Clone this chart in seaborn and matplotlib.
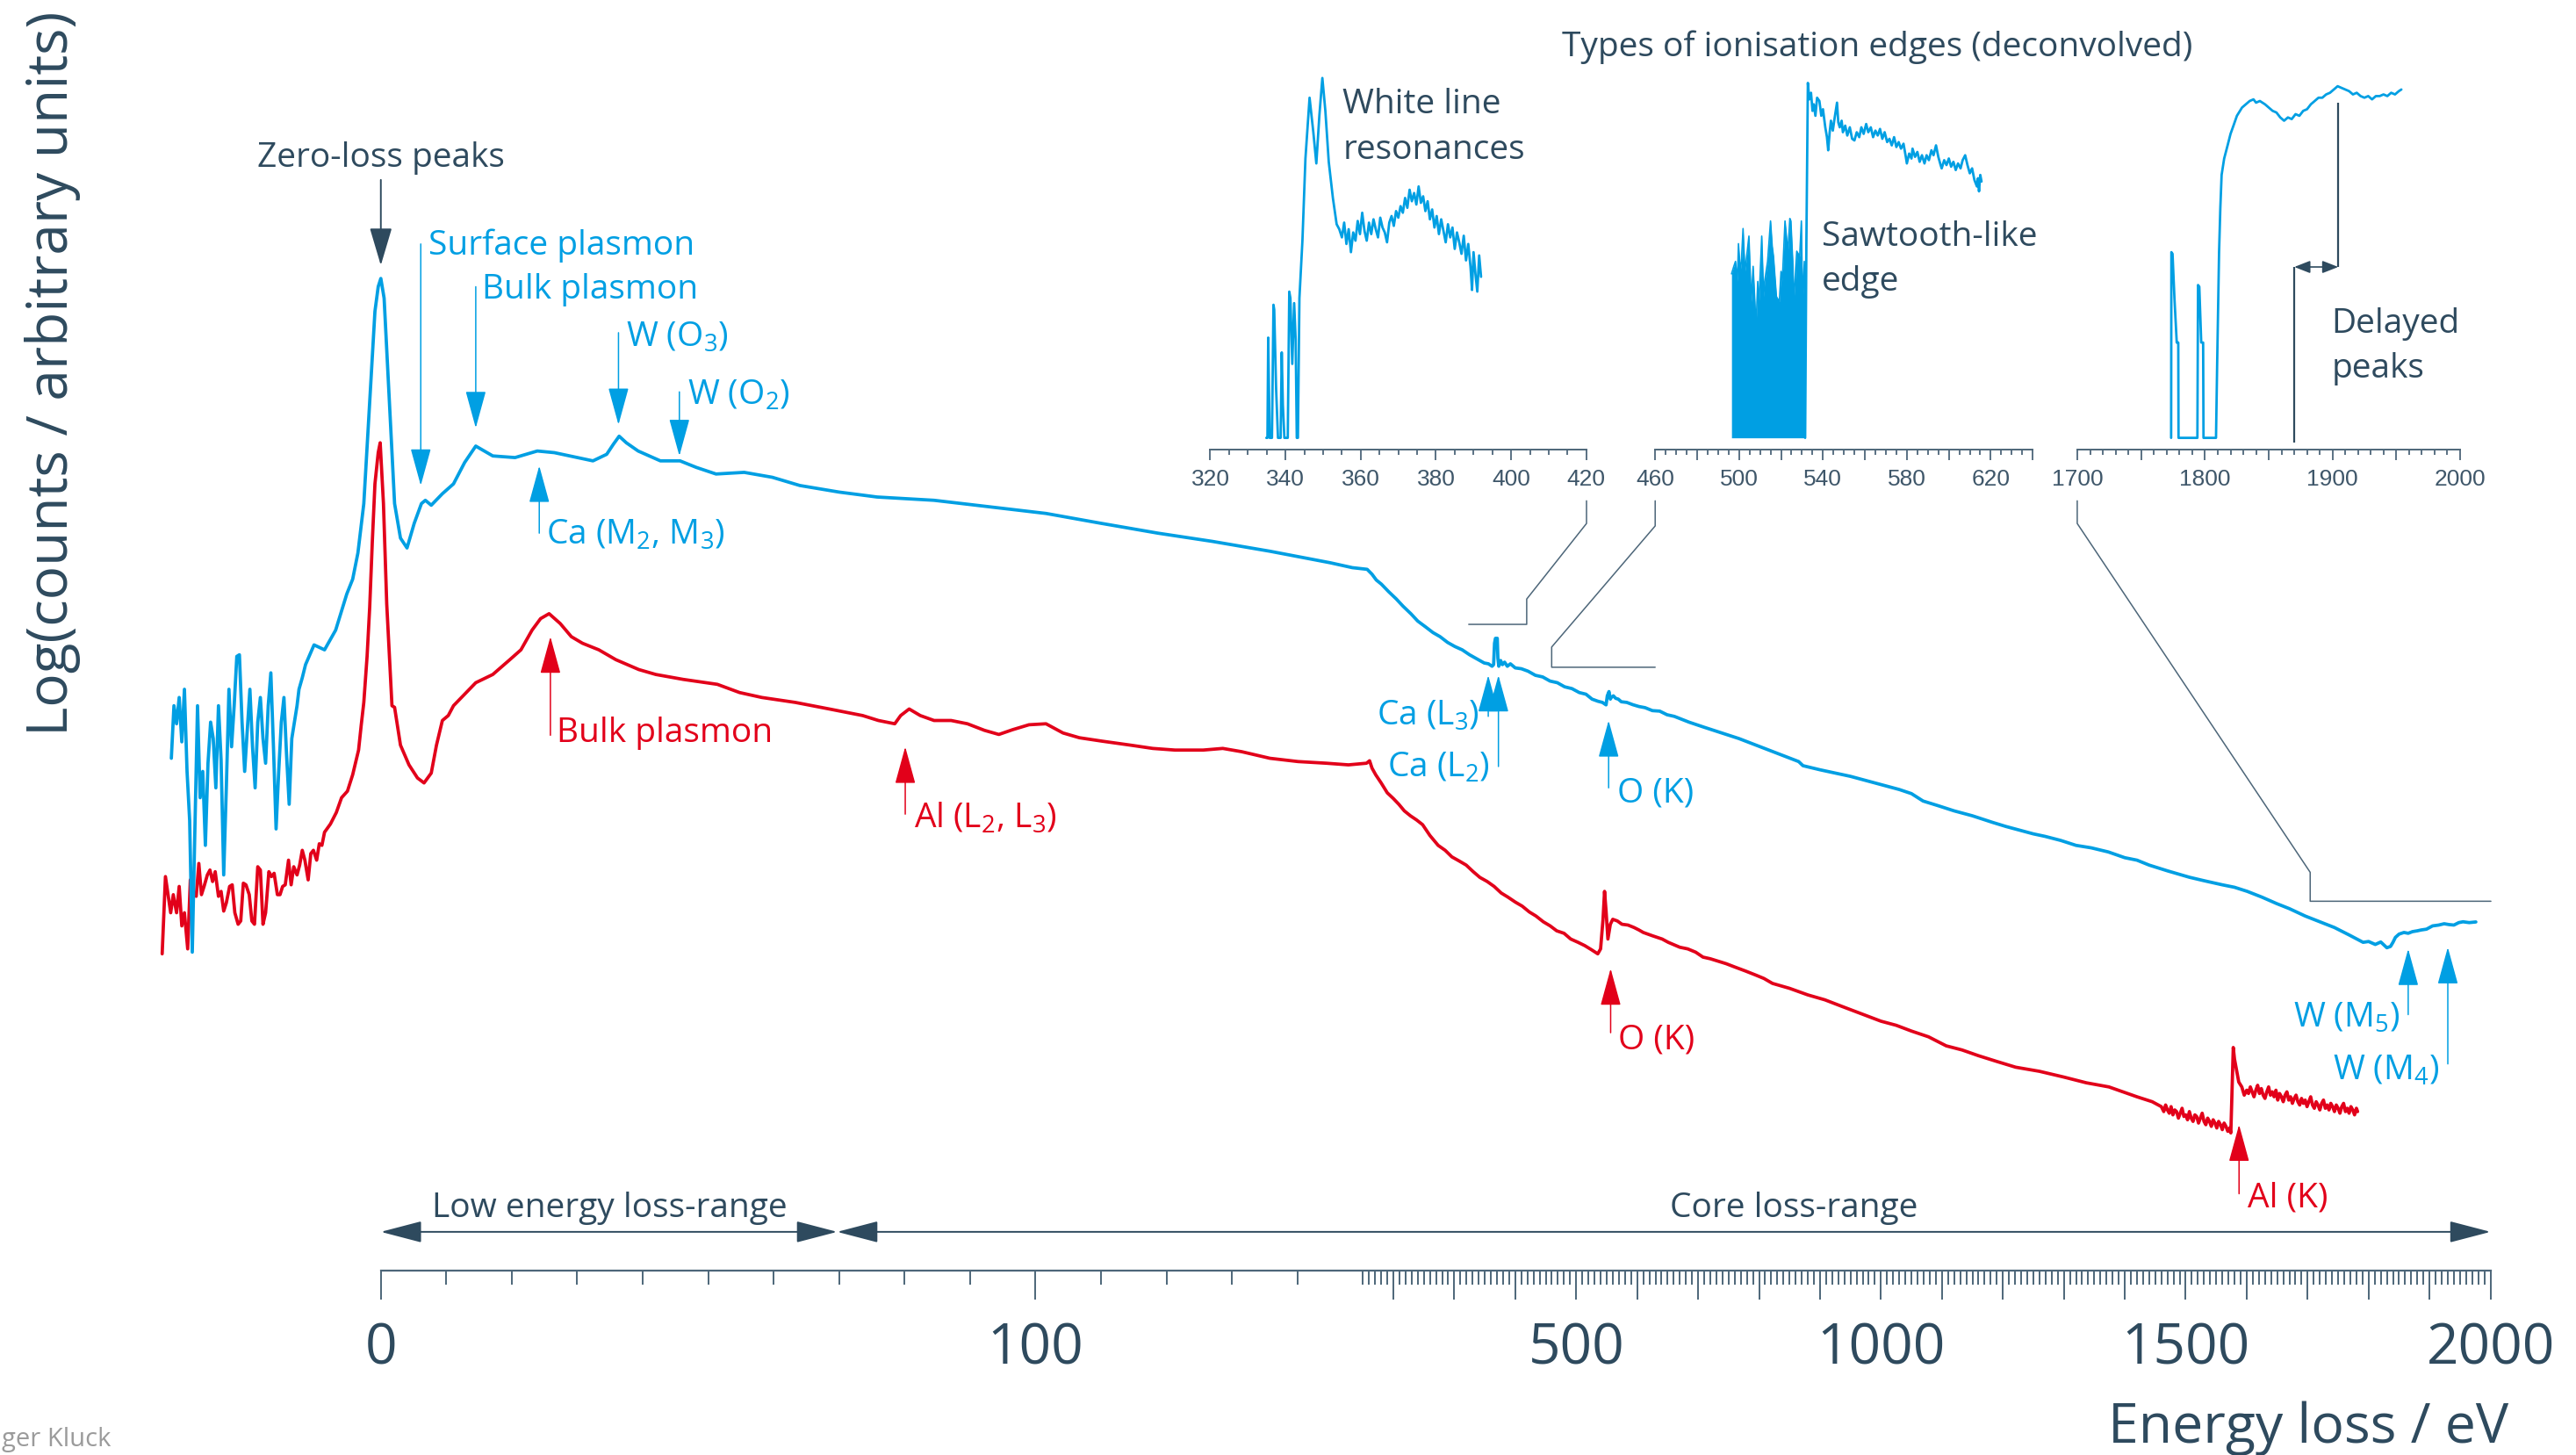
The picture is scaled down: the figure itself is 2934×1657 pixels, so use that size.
import numpy as np
import pandas as pd
import matplotlib
matplotlib.use("Agg")
import matplotlib.pyplot as plt
import seaborn as sns
from matplotlib.patches import ArrowStyle
from matplotlib.lines import Line2D

# ---------------- data: (energy loss / eV, log counts / arb. units) ----------------
BLUE_NOISE = [(-32.0,311),(-31.6,343),(-31.2,332),(-30.8,348),(-30.4,321),(-30.0,353),(-29.6,303),
              (-29.2,273),(-28.8,193),(-28.4,268),(-28.0,343),(-27.6,287),(-27.2,303),(-26.8,258),
              (-26.4,308),(-26.0,333),(-25.6,323),(-25.2,293),(-24.8,343),(-24.4,310),(-24.0,240),
              (-23.6,293),(-23.2,353),(-22.8,318),(-22.4,343),(-22.0,373),(-21.6,374),(-21.2,333),
              (-20.8,303),(-20.4,328),(-20.0,353),(-19.6,318),(-19.2,293),(-18.8,333),(-18.4,348),
              (-18.0,323),(-17.6,308),(-17.2,343),(-16.8,363),(-16.4,318),(-16.0,268),(-15.6,303),
              (-15.2,333),(-14.8,348),(-14.4,313),(-14.0,283),(-13.6,323),(-13.2,333),(-12.8,343),
              (-12.5,353),(-12.0,360),(-11.5,368)]
BLUE_LOW = [(-10.2,380),(-8.6,377),(-6.9,389),(-5.2,411),(-4.3,420),(-3.5,436),(-2.6,466),(-1.7,528),
            (-0.9,583),(-0.4,598),(0.0,603),(0.5,591),(1.3,528),(2.1,466),(3.0,445),(4.0,439),(5.1,454),
            (6.2,466),(6.8,468),(7.7,465),(9.4,472),(11.1,478),(12.8,491),(14.5,501),(15.8,498),
            (17.1,495),(20.5,494),(23.9,498),(26.5,497),(30.0,494),(32.4,492),(34.5,496),(35.5,502),
            (36.4,507),(37.5,503),(39.3,498),(42.7,492),(45.7,492),(48.2,488),(51.2,484),(55.5,485),
            (59.8,482),(64.0,477),(70.0,473),(75.8,470),(84.5,468),(93.0,464),(101.6,460),(110.0,454),
            (118.7,448),(127.0,443),(135.8,437),(145.0,430)]
BLUE_CORE = [(148.4,427),(157,426),(165,423),(172,419.5),(180.3,417),(192,412.5),(204.7,408),(216,403.5),
             (228.7,399),(240,394.5),(252.7,391),(265,387.5),(276.7,385),(289,381.5),(301,379),(313,377),
             (325,374),(337,371.5),(349,369),(356,368.5),(362,367),(364.5,368),(366,381),(367.5,384),
             (370.5,384),(371.5,372),(373,367),(376,370.5),(379,368),(382.5,369.5),(387,367),(392,368.5),
             (400,366),(410,365.5),(421,364),(433,361.5),(445,360.5),(457,358),(469,357),(481,354.5),
             (493,353.4),(505,351),(516,350),(526,347),(535.7,345.7),(543,345),(549,343.5),(551,349),
             (553.8,351.6),(556,347),(557.5,348),(561,349),(564.7,347.5),(569,347),(574,345.4),(583,345),
             (593,343.6),(603,342.5),(613,341.8),(625,340),(637,339.7),(649,337.5),(661,336.5),(685,333),
             (709,330),(738,326.5),(767,323),(795,319),(830,314),(865,309),(872,306.5),(900,304),(950,300),
             (1000,295),(1030,292),(1050,289.5),(1069,285),(1095,282),(1120,279),(1150,276),(1183,272),
             (1205,269.5),(1230,267),(1250,265),(1269,263.5),(1295,261),(1320,258),(1345,256.5),(1373,254),
             (1400,250.5),(1420,249),(1440,246),(1470,242.5),(1506,238.6),(1530,236.5),(1560,234),
             (1580,232.5),(1601,230),(1625,226.5),(1649,222.6),(1670,219.5),(1696,215),(1720,211.5),
             (1744,208),(1768,203.5),(1791,199),(1800,199.5),(1811,197.7),(1820,199.2),(1830,195.7),
             (1836,196.5),(1840,199),(1844,202),(1850,204),(1858,205),(1865,204.5),(1872,205.5),(1880,206),
             (1886,206.5),(1895,207),(1905,209),(1915,209.5),(1924,210.3),(1932,209.8),(1940,209.5),
             (1948,211),(1955,211.5),(1965,211),(1976,211.4)]

RED_NOISE = [(-33.4,192),(-32.9,239),(-32.5,228),(-32.1,217),(-31.7,228),(-31.2,217),(-30.8,233),(-30.4,209),
             (-30.0,217),(-29.5,195),(-29.1,237),(-28.7,230),(-28.2,227),(-27.8,247),(-27.4,228),(-27.0,233),
             (-26.5,240),(-26.1,243),(-25.7,236),(-25.3,242),(-24.8,227),(-24.4,230),(-24.0,218),(-23.6,223),
             (-23.1,233),(-22.7,234),(-22.3,217),(-21.8,210),(-21.4,212),(-21.0,235),(-20.6,234),(-20.1,228),
             (-19.7,212),(-19.3,210),(-18.8,245),(-18.4,243),(-18.0,210),(-17.6,217),(-17.1,242),(-16.7,239),
             (-16.3,241),(-15.8,228),(-15.4,228),(-15.0,233),(-14.6,234),(-14.1,249),(-13.7,234),(-13.3,245),
             (-12.8,240),(-12.4,246),(-12.0,255),(-11.6,249),(-11.1,237),(-10.7,253),(-10.3,255),(-9.8,249),
             (-9.4,259),(-9.0,258),(-8.6,266)]
RED_LOW = [(-7.7,271),(-6.8,278),(-6.0,287),(-5.1,291),(-4.3,301),(-3.4,316),(-3.0,331),(-2.6,345),(-2.1,373),
           (-1.7,403),(-1.3,443),(-0.9,478),(-0.4,497),(-0.1,503),(0.4,466),(0.9,405),(1.7,343),(2.1,342),
           (3.0,319),(4.3,307),(5.6,299),(6.6,296),(7.7,302),(8.5,319),(9.4,334),(10.3,337),(11.1,343),
           (12.8,350),(14.5,357),(17.1,362),(19.7,371),(21.4,377),(23.1,389),(24.4,396),(25.7,399),(27.4,393),
           (29.1,385),(30.8,381),(33.3,377),(35.9,371),(39.4,365),(42.0,362),(46.2,359),(51.4,356),(54.8,351),
           (58.2,348),(63.3,345),(68.5,341),(73.6,337),(76.0,334),(78.5,332),(79.4,337),(80.7,341),(82.4,337),
           (84.5,334),(87.1,334),(89.6,332),(92.2,328),(94.4,325.5),(96.5,328.4),(99.0,331.4),(101.6,332),
           (104.2,326.4),(106.7,323.5),(110.2,321.4),(114.5,319),(117.9,317),(121.3,316),(125.6,316),
           (128.6,317),(131.5,315),(135.8,311),(140.1,309),(144.4,308),(147.8,307)]
RED_CORE = [(156,308),(161,309.5),(165,305),(171,301),(180,296),(190,290),(200,286.5),(209,283),(218,279),
            (228,276),(238,273.5),(248,270.6),(260,264),(273.5,258),(285,255),(296,251),(308,248.5),
            (319.5,246),(331,242),(342,238.5),(354,236),(365.4,233),(377,229),(388,226.5),(400,223.5),
            (411.5,221),(423,217.5),(434,215),(446,211.5),(457.3,209),(468,206),(480,204.5),(491,201),
            (503,199),(514,197),(525,194.5),(535.4,192),(540,195),(544,213),(546.5,230),(549,218),(552,201),
            (556,210),(560,213),(567.5,212),(575,210),(585,209.5),(595,208),(603,206.5),(610,205),(625,203),
            (641,201),(651,199),(670,196),(683,195),(696,193),(708,190),(720,189),(733,187.5),(746,186),
            (760,184),(778,181.5),(795,179),(808,177),(822,174),(850,171),(880,167),(908,164),(936,160),
            (968,155.5),(1000,151),(1025,148.5),(1050,145),(1078,141.5),(1107,136),(1133,133.5),(1160,130),
            (1190,126.5),(1221,123),(1260,120.5),(1300,117),(1337,113.5),(1374,111),(1397,108),(1420,105),
            (1445,102),(1460,99),(1464,96),(1467,100),(1470,97),(1473,95),(1476,99),(1479,94),(1482,97),
            (1485,96),(1488,92),(1491,95),(1494,98),(1497,93),(1500,94),(1503,91),(1506,96),(1509,92),
            (1512,90),(1515,94),(1518,93),(1521,89),(1524,92),(1527,95),(1530,90),(1533,88),(1536,92),
            (1539,90),(1542,87),(1545,91),(1548,89),(1551,86),(1554,90),(1557,88),(1560,85),(1563,89),
            (1566,87),(1569,84),(1572,86),(1574,83),(1576,110),(1578,135),(1580,128),(1583,122),(1587,114),
            (1592,111),(1596,106),(1600,109),(1603,107),(1606,111),(1609,108),(1612,105),(1615,109),
            (1618,112),(1621,107),(1624,110),(1627,106),(1630,104),(1633,108),(1636,111),(1639,106),
            (1642,108),(1645,105),(1648,109),(1651,103),(1654,107),(1657,105),(1660,102),(1663,106),
            (1666,108),(1669,103),(1672,105),(1675,101),(1678,104),(1681,106),(1684,102),(1687,100),
            (1690,104),(1693,101),(1696,103),(1699,99),(1702,102),(1705,105),(1708,100),(1711,98),
            (1714,102),(1717,100),(1720,97),(1723,101),(1726,103),(1729,98),(1732,100),(1735,97),
            (1738,101),(1741,99),(1744,96),(1747,100),(1750,98),(1753,95),(1756,99),(1759,101),(1762,96),
            (1765,98),(1768,95),(1771,99),(1774,97),(1777,94),(1780,98),(1782,96)]

# insets: deconvolved edges (energy / eV, intensity above floor)
INS1 = [(334.9,0),(335.2,0),(335.4,61),(335.8,0),(336.4,0),(336.8,81),(337.0,78),(337.5,30),(338.0,0),
        (338.7,0),(339.0,52),(339.3,20),(339.7,0),(340.6,0),(341.0,89),(341.3,85),(341.8,45),(342.3,82),
        (342.7,60),(343.0,0),(343.3,0),(343.7,85),(344.5,120),(345.3,170),(346.4,207),(347.4,186),
        (348.2,167),(349.0,196),(349.8,219),(350.6,199),(351.5,168),(352.6,146),(353.6,130),(354.3,127),
        (355.0,122),(355.6,131),(356.2,118),(356.8,127),(357.4,113),(358.0,125),(358.6,120),(359.2,132),
        (359.8,124),(360.4,137),(361.0,126),(361.6,120),(362.2,131),(362.8,124),(363.4,133),(364.0,127),
        (364.6,122),(365.2,134),(365.8,128),(366.4,125),(367.0,119),(367.6,131),(368.2,135),(368.8,129),
        (369.4,138),(370.0,134),(370.6,141),(371.2,137),(371.8,146),(372.4,140),(373.0,151),(373.6,144),
        (374.2,149),(374.8,142),(375.4,153),(376.0,143),(376.6,147),(377.2,138),(377.8,144),(378.4,133),
        (379.0,139),(379.6,128),(380.2,135),(380.8,124),(381.4,133),(382.0,126),(382.6,119),(383.2,130),
        (383.8,122),(384.4,128),(385.0,115),(385.6,125),(386.2,119),(386.8,112),(387.4,123),(388.0,108),
        (388.6,118),(389.2,104),(389.6,90),(390.0,113),(390.5,100),(391.0,89),(391.5,111),(392.0,98)]
INS2_FILL = [(496.4,99.8),(497.5,104.4),(498.3,107.4),(499.2,95.2),(499.7,118.2),(500.6,101.3),(501.1,107.4),
             (501.9,127.4),(502.8,101.3),(503.9,113.6),(504.7,122.8),(505.8,82.9),(506.7,104.4),(508.1,67.6),
             (508.9,95.2),(509.4,79.8),(510.3,107.4),(510.8,122.8),(511.7,86.0),(512.2,95.2),(513.6,107.4),
             (515.0,132.0),(515.8,116.7),(516.4,110.5),(517.8,86.0),(519.2,82.9),(520.0,101.3),(520.6,95.2),
             (521.9,132.0),(522.8,119.7),(523.3,113.6),(524.2,133.5),(524.7,132.0),(525.6,107.4),(526.1,82.9),
             (526.9,101.3),(527.5,113.6),(528.9,110.5),(529.7,132.0),(530.3,82.9),(531.1,107.4),(531.7,52.2)]
INS2_LINE = [(531.5,0),(532.1,120),(532.8,216),(533.5,206),(534.3,210),(535.0,199),(535.6,203),(536.4,196),
             (537.2,207),(538.3,205),(539.2,196),(540.0,200),(541.1,189),(541.9,183),(542.5,175),(543.2,186),
             (543.8,193),(544.7,187),(545.6,195),(546.7,204),(547.3,192),(548.0,189),(548.9,193),(549.5,186),
             (550.6,190),(551.6,184),(552.8,189),(553.9,182),(555.0,181),(556.1,186),(557.3,183),(558.3,189),
             (559.4,185),(560.6,191),(561.6,186),(562.8,189),(563.9,183),(565.0,187),(566.1,184),(567.2,188),
             (568.3,182),(569.4,186),(570.6,180),(571.7,182),(572.8,178),(573.9,183),(575.0,177),(576.1,180),
             (577.2,176),(578.4,179),(579.5,171),(580.0,167),(581.1,173),(582.2,170),(582.7,176),(583.9,171),
             (585.0,174),(586.1,168),(587.2,172),(588.4,167),(589.4,172),(590.5,169),(591.7,175),(592.7,172),
             (593.9,178),(595.0,171),(596.1,166),(596.6,164),(597.8,169),(598.9,166),(600.0,170),(601.1,165),
             (602.2,168),(603.3,163),(604.4,167),(605.6,164),(606.6,169),(607.8,172),(608.9,166),(610.0,161),
             (611.1,164),(612.2,157),(613.4,153),(613.9,158),(614.4,150),(615.0,160),(615.6,156)]
INS3 = [(1773.4,0),(1773.6,113),(1774.5,112),(1776.0,85),(1777.8,58),(1779.0,58),(1779.2,0),(1794.0,0),
        (1794.5,93),(1795.5,92),(1797.0,58),(1798.5,58),(1798.8,0),(1808.6,0),(1809.5,45),(1811.0,113),
        (1812.0,140),(1813.0,160),(1815.0,170),(1817.7,178),(1820.0,185),(1822.3,190),(1825.0,196),
        (1829.0,201),(1832.0,203),(1835.0,205),(1838.0,206),(1840.0,204),(1843.0,205),(1847.0,203),
        (1850.0,201),(1853.0,199),(1856.0,198),(1859.0,195),(1862.0,193),(1865.0,195),(1868.0,194),
        (1871.0,197),(1874.0,196),(1877.0,199),(1880.0,200),(1883.0,203),(1886.0,205),(1889.0,207),
        (1892.0,207),(1895.0,209),(1898.0,210),(1901.0,212),(1904.0,214),(1907.0,213),(1910.0,212),
        (1913.0,211),(1916.0,209),(1919.0,210),(1922.0,208),(1925.0,207),(1928.0,208),(1931.0,206),
        (1934.0,208),(1937.0,208),(1940.0,209),(1943.0,208),(1946.0,210),(1949.0,209),(1952.0,211),
        (1954.0,212)]

MAIN_TICKS = list(range(0, 2001, 100))
MAIN_LABELED = [0, 100, 500, 1000, 1500, 2000]

# ---------------- style ----------------
sns.set_theme(style="white")
plt.rcParams["font.family"] = ["Open Sans", "DejaVu Sans"]
plt.rcParams["mathtext.default"] = "regular"

BLUE = "#009FE3"
RED = "#E2001A"
DARK = "#2E4A5E"
AXC = "#4D6679"

W, H = 1568.0, 886.0
def fx(v): return v / W
def fy(v): return 1 - v / H

K = 0.0931  # compression of the core-loss part of the energy axis
def fwd(x):
    x = np.asarray(x, dtype=float)
    return np.where(x <= 150, x, 150 + (x - 150) * K)
def inv(x):
    x = np.asarray(x, dtype=float)
    return np.where(x <= 150, x, 150 + (x - 150) / K)

fig = plt.figure(figsize=(29.34, 16.58), dpi=100)
fig.patch.set_facecolor("white")
ax = fig.add_axes([0, fy(774), 1, 774 / H])

def df(pts):
    return pd.DataFrame(pts, columns=["E", "y"])

def curve(a, pts, color, lw):
    sns.lineplot(data=df(pts), x="E", y="y", ax=a, color=color, lw=lw, estimator=None, sort=False)

curve(ax, RED_NOISE + RED_LOW + RED_CORE, RED, 2.7)
curve(ax, BLUE_NOISE + BLUE_LOW + BLUE_CORE, BLUE, 2.7)

ax.set_xscale("function", functions=(fwd, inv))
ax.set_xlim(-58.17, 2140.3)
ax.set_ylim(-1, 773)
ax.set_xlabel("")
ax.set_ylabel("")
ax.set_yticks([])
ax.grid(False)
for s in ("left", "top", "right"):
    ax.spines[s].set_visible(False)
ax.spines["bottom"].set_bounds(0, 2000)
ax.spines["bottom"].set_color(AXC)
ax.spines["bottom"].set_linewidth(1.6)
ax.set_xticks(MAIN_TICKS, labels=[str(t) if t in MAIN_LABELED else "" for t in MAIN_TICKS],
              fontsize=46, color=DARK)
ax.set_xticks([v for v in range(10, 2000, 10) if v % 100], minor=True)
ax.tick_params(axis="x", which="major", direction="out", length=23.6, width=1.4, color=AXC, pad=17,
               bottom=True)
ax.tick_params(axis="x", which="minor", direction="out", length=11.8, width=1.4, color=AXC, bottom=True)

# ---------------- annotations on the main spectrum ----------------
def arrow(a, x, y0, y1, color, hl=27, hw=7.4, lw=1.1):
    a.annotate("", xy=(x, y1), xytext=(x, y0),
               arrowprops=dict(arrowstyle=ArrowStyle("-|>", head_length=hl, head_width=hw),
                               mutation_scale=1, shrinkA=0, shrinkB=0, lw=lw, color=color))

def lab(x, y, s, color, ha="left", size=28):
    ax.text(x, y, s, color=color, fontsize=size, ha=ha, va="baseline")

arrow(ax, 0, 663, 611, DARK, hw=8, lw=1.4)
lab(0, 671.7, "Zero-loss peaks", DARK, ha="center")

arrow(ax, 6.1, 624, 477, BLUE); lab(7.3, 618, "Surface plasmon", BLUE)
arrow(ax, 14.5, 598, 512, BLUE); lab(15.4, 591.3, "Bulk plasmon", BLUE)
arrow(ax, 36.3, 570, 514, BLUE); lab(37.4, 562, "W ($O_3$)", BLUE)
arrow(ax, 45.6, 534, 495, BLUE); lab(46.9, 527, "W ($O_2$)", BLUE)
arrow(ax, 24.2, 448, 489, BLUE); lab(25.2, 441.6, "Ca ($M_2$, $M_3$)", BLUE)
arrow(ax, 25.9, 325, 385, RED); lab(26.9, 321.3, "Bulk plasmon", RED)
arrow(ax, 80.1, 277, 318, RED); lab(81.5, 269.4, "Al ($L_2$, $L_3$)", RED)
arrow(ax, 355.7, 336.5, 361.5, BLUE); lab(341.6, 332, "Ca ($L_3$)", BLUE, ha="right")
arrow(ax, 372.4, 306, 361.5, BLUE); lab(358, 300, "Ca ($L_2$)", BLUE, ha="right")
arrow(ax, 553.2, 293, 334, BLUE); lab(567.5, 284.6, "O (K)", BLUE)
arrow(ax, 556.5, 144, 183, RED); lab(569.4, 134.8, "O (K)", RED)
arrow(ax, 1587.5, 46, 88, RED); lab(1601.7, 38.3, "Al (K)", RED)
arrow(ax, 1865, 155, 195, BLUE); lab(1850.9, 148, "W ($M_5$)", BLUE, ha="right")
arrow(ax, 1930, 125, 196, BLUE); lab(1915.6, 115.8, "W ($M_4$)", BLUE, ha="right")

# energy ranges
for x0, x1 in ((0, 69.7), (69.7, 2000)):
    ax.annotate("", xy=(x1, 22.8), xytext=(x0, 22.8),
                arrowprops=dict(arrowstyle=ArrowStyle("<|-|>", head_length=29.5, head_width=7.7),
                                mutation_scale=1, shrinkA=0, shrinkB=0, lw=1.4, color=DARK))
lab(34.9, 32.4, "Low energy loss-range", DARK, ha="center")
lab(857.5, 32.4, "Core loss-range", DARK, ha="center")

# ---------------- insets ----------------
def make_inset(x0, x1):
    ia = fig.add_axes([fx(x0), fy(274), fx(x1) - fx(x0), fy(40) - fy(274)])
    ia.patch.set_alpha(0)
    return ia

def style_inset(ia, lims, majors, labeled, minors):
    ia.set_xlim(*lims)
    ia.set_ylim(-7, 227)
    ia.set_xlabel(""); ia.set_ylabel("")
    ia.set_yticks([])
    ia.grid(False)
    for s in ("left", "top", "right"):
        ia.spines[s].set_visible(False)
    ia.spines["bottom"].set_color(AXC)
    ia.spines["bottom"].set_linewidth(1.4)
    ia.set_xticks(majors, labels=[str(t) if t in labeled else "" for t in majors],
                  fontsize=19, color="#3F576A", fontfamily="Liberation Sans")
    ia.set_xticks(minors, minor=True)
    ia.tick_params(axis="x", which="major", direction="out", length=8.9, width=1.3, color=AXC, pad=6.5,
                   bottom=True)
    ia.tick_params(axis="x", which="minor", direction="out", length=4.6, width=1.3, color=AXC, bottom=True)

in1 = make_inset(736.7, 965.6)
curve(in1, INS1, BLUE, 2.0)
style_inset(in1, (320, 420), list(range(320, 421, 20)), list(range(320, 421, 20)),
            [v for v in range(325, 420, 5) if v % 20])

in2 = make_inset(1007.5, 1237.3)
f2 = df(INS2_FILL)
in2.fill_between(f2["E"], 0, f2["y"], color=BLUE, lw=0)
curve(in2, INS2_FILL, BLUE, 1.2)
curve(in2, INS2_LINE, BLUE, 2.0)
style_inset(in2, (460, 640), list(range(460, 641, 20)), [460, 500, 540, 580, 620],
            [v for v in range(465, 640, 5) if (v - 460) % 20])

in3 = make_inset(1264.6, 1497.4)
curve(in3, INS3, BLUE, 2.0)
style_inset(in3, (1700, 2000), list(range(1700, 2001, 50)), [1700, 1800, 1900, 2000],
            [v for v in range(1710, 2000, 10) if v % 50])
# delayed peak marker
in3.plot([1870, 1870], [-3, 104], color=DARK, lw=1.6, solid_capstyle="butt")
in3.plot([1904.5, 1904.5], [104, 204], color=DARK, lw=1.6, solid_capstyle="butt")
in3.annotate("", xy=(1904.5, 104), xytext=(1870, 104),
             arrowprops=dict(arrowstyle=ArrowStyle("<|-|>", head_length=11, head_width=4.3),
                             mutation_scale=1, shrinkA=0, shrinkB=0, lw=1.2, color=DARK))

# connector lines from the insets to the spectrum
for path in ([(965.7, 305.3), (965.7, 319.1), (929.3, 365.1), (929.3, 380.5), (894, 380.5)],
             [(1007.5, 305.3), (1007.5, 320.6), (944.5, 394.3), (944.5, 406.6), (1007.5, 406.6)],
             [(1264.4, 305.3), (1264.4, 319.1), (1406.2, 531.4), (1406.2, 549), (1516.2, 549)]):
    fig.add_artist(Line2D([fx(p[0]) for p in path], [fy(p[1]) for p in path],
                          transform=fig.transFigure, color=AXC, lw=1.1))

# ---------------- texts ----------------
def ftxt(x, y, s, size=28, color=DARK, ha="left", **kw):
    fig.text(fx(x), fy(y), s, fontsize=size, color=color, ha=ha, va="baseline", **kw)

ftxt(951, 34.4, "Types of ionisation edges (deconvolved)")
ftxt(817.4, 69, "White line")
ftxt(817.4, 96.7, "resonances")
ftxt(1108.9, 149.4, "Sawtooth-like")
ftxt(1108.9, 177, "edge")
ftxt(1419, 202.5, "Delayed")
ftxt(1419, 230, "peaks")
ftxt(1527, 878, "Energy loss / eV", size=45, ha="right")
fig.text(fx(32), fy(227.5), "Log(counts / arbitrary units)", rotation=90, ha="center", va="center",
         fontsize=46, color=DARK)
ftxt(1, 880, "ger Kluck", size=21, color="#9B9B9B")

fig.savefig("out.png", dpi=100, facecolor="white")
